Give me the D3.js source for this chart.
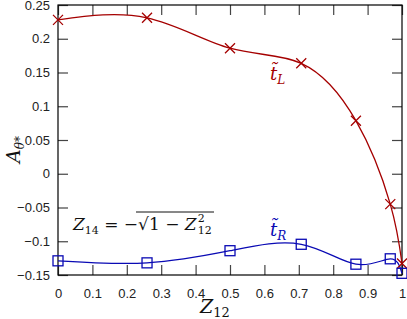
<!DOCTYPE html>
<html>
<head>
<meta charset="utf-8">
<script src="https://d3js.org/d3.v7.min.js"></script>
<style>
  body { margin: 0; background: #fff; }
  .tick text { font-family: "Liberation Sans", Arial, sans-serif; font-size: 13px; fill: #222; }
  .math { font-family: "DejaVu Serif", "Liberation Serif", serif; }
</style>
</head>
<body>
<div id="chart"></div>
<script>
// x = sin of 0,15,...,90 degrees
let zValues = [0, 0.2588, 0.5, 0.7071, 0.866, 0.9659, 1];
let tL = [0.228, 0.231, 0.186, 0.1636, 0.0786, -0.045, -0.133];
let tR = [-0.129, -0.132, -0.114, -0.1045, -0.134, -0.126, -0.1475];
let xTicks = [0, 0.1, 0.2, 0.3, 0.4, 0.5, 0.6, 0.7, 0.8, 0.9, 1];
let yTicks = [-0.15, -0.1, -0.05, 0, 0.05, 0.1, 0.15, 0.2, 0.25];

let W = 407, H = 319;
let margin = {top: 5, right: 5, bottom: 44, left: 58};
let w = W - margin.left - margin.right;
let h = H - margin.top - margin.bottom;

let svg = d3.select("#chart").append("svg")
    .attr("width", W).attr("height", H)
  .append("g")
    .attr("transform", "translate(" + margin.left + "," + margin.top + ")");

let x = d3.scaleLinear().domain([0, 1]).range([0, w]);
let y = d3.scaleLinear().domain([-0.15, 0.25]).range([h, 0]);

// axes with inward ticks, mirrored
let fmt = d => d === 0 ? "0" : d3.format("")(d);
svg.append("g").attr("transform", "translate(0," + h + ")")
  .call(d3.axisBottom(x).tickValues(xTicks).tickSize(-10).tickPadding(14).tickFormat(fmt));
svg.append("g")
  .call(d3.axisLeft(y).tickValues(yTicks).tickSize(-10).tickPadding(8).tickFormat(fmt));
svg.append("g")
  .call(d3.axisTop(x).tickValues(xTicks).tickSize(-10).tickFormat(""));
svg.append("g").attr("transform", "translate(" + w + ",0)")
  .call(d3.axisRight(y).tickValues(yTicks).tickSize(-10).tickFormat(""));
svg.selectAll(".domain").remove();
svg.selectAll(".tick line").attr("stroke", "#444").attr("stroke-width", 1.2);
svg.append("rect").attr("width", w).attr("height", h)
  .attr("fill", "none").attr("stroke", "#000").attr("stroke-width", 1.2);

let red = "#a50000", blue = "#0a0ab4";

function series(vals, color) {
  let pts = zValues.map((z, i) => [x(z), y(vals[i])]);
  svg.append("path")
    .attr("d", d3.line().curve(d3.curveNatural)(pts))
    .attr("fill", "none").attr("stroke", color).attr("stroke-width", 1.3);
  return pts;
}

let pL = series(tL, red);
let pR = series(tR, blue);

svg.selectAll(".xm").data(pL).enter().append("path")
  .attr("d", d => `M${d[0]-5},${d[1]-5}L${d[0]+5},${d[1]+5}M${d[0]-5},${d[1]+5}L${d[0]+5},${d[1]-5}`)
  .attr("stroke", red).attr("stroke-width", 1.3).attr("fill", "none");

svg.selectAll(".sq").data(pR).enter().append("rect")
  .attr("x", d => d[0] - 5).attr("y", d => d[1] - 5)
  .attr("width", 10).attr("height", 10)
  .attr("fill", "none").attr("stroke", blue).attr("stroke-width", 1.3);

// curve labels
function tlabel(px, py, sub, color) {
  let t = svg.append("text").attr("class", "math")
    .attr("x", px).attr("y", py).attr("fill", color)
    .attr("font-size", 18).attr("font-style", "italic");
  t.append("tspan").text("t\u0303");
  t.append("tspan").attr("font-size", 12).attr("dy", 4).text(sub);
}
tlabel(270 - margin.left, 80 - margin.top, "L", red);
tlabel(270 - margin.left, 236 - margin.top, "R", blue);

// formula Z14 = -sqrt(1 - Z12^2)
let f = svg.append("text").attr("class", "math")
  .attr("x", 73 - margin.left).attr("y", 230 - margin.top)
  .attr("font-size", 17).attr("fill", "#111");
f.append("tspan").attr("font-style", "italic").text("Z");
f.append("tspan").attr("font-size", 11).attr("dy", 4).text("14");
f.append("tspan").attr("dy", -4).text(" = \u2212\u221A");
f.append("tspan").text("1 \u2212 ");
f.append("tspan").attr("font-style", "italic").text("Z");
f.append("tspan").attr("font-size", 11).attr("dy", -8).attr("dx", 1).text("2");
f.append("tspan").attr("font-size", 11).attr("dy", 12).attr("dx", -7).text("12");
svg.append("line")
  .attr("x1", 136 - margin.left).attr("x2", 214 - margin.left)
  .attr("y1", 212 - margin.top).attr("y2", 212 - margin.top)
  .attr("stroke", "#111").attr("stroke-width", 1);

// axis titles
let xl = svg.append("text").attr("class", "math")
  .attr("x", 200 - margin.left).attr("y", 313 - margin.top)
  .attr("font-size", 19).attr("fill", "#111");
xl.append("tspan").attr("font-style", "italic").text("Z");
xl.append("tspan").attr("font-size", 13).attr("dy", 4).text("12");

let yl = svg.append("text").attr("class", "math")
  .attr("transform", "translate(" + (20 - margin.left) + "," + (163 - margin.top) + ") rotate(-90)")
  .attr("font-size", 19).attr("fill", "#111");
yl.append("tspan").attr("font-style", "italic").text("A");
yl.append("tspan").attr("font-size", 12).attr("dy", 4).attr("font-style", "italic").text("\u03B8*");
</script>
</body>
</html>
